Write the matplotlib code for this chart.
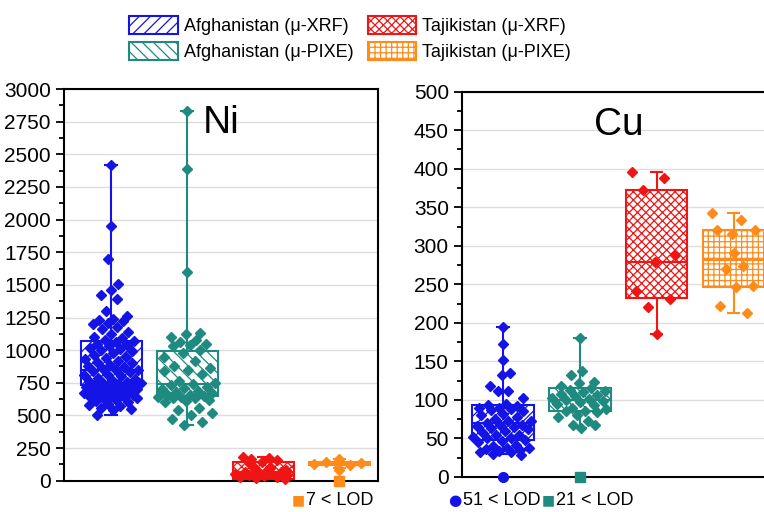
import numpy as np
import matplotlib.pyplot as plt
from matplotlib.patches import Patch

plt.rcParams['font.family'] = ['Liberation Sans', 'DejaVu Sans']
plt.rcParams['hatch.linewidth'] = 0.9

groups = ['Afghanistan (μ-XRF)', 'Afghanistan (μ-PIXE)', 'Tajikistan (μ-XRF)', 'Tajikistan (μ-PIXE)']
colors = ['#1414e6', '#1f8a80', '#f01414', '#ff8c1a']
hatches = ['///', '\\\\\\', 'xxxx', '+++']

# Ni points (ppm)
ni_afg_xrf = [2420, 1950, 1700, 1510, 1460, 1420, 1390, 1300, 1260, 1240, 1230, 1220, 1210,
              1200, 1180, 1160, 1140, 1120, 1100, 1090, 1080, 1070, 1060, 1050, 1040, 1030,
              1020, 1010, 1000, 990, 980, 960, 950, 940, 930, 920, 910, 900, 890, 880, 870,
              860, 850, 845, 840, 830, 820, 810, 800, 790, 780, 770, 760, 755, 750, 745, 740,
              735, 730, 725, 720, 715, 710, 700, 695, 690, 685, 680, 670, 665, 660, 655, 650,
              645, 640, 635, 630, 620, 610, 600, 590, 580, 570, 560, 550, 540, 500]
ni_afg_pixe = [2830, 2390, 1600, 1130, 1120, 1100, 1080, 1060, 1050, 1040, 1030, 1000, 980,
               950, 920, 880, 860, 850, 840, 820, 760, 750, 740, 730, 720, 710, 700, 690,
               680, 670, 660, 655, 650, 645, 640, 635, 630, 620, 610, 600, 560, 540, 520,
               500, 470, 450, 430]
ni_taj_xrf = [185, 175, 170, 160, 140, 130, 100, 90, 80, 75, 70, 65, 60, 55, 50, 45, 40, 35,
              30, 25, 20, 15]
ni_taj_pixe = [170, 150, 140, 135, 130, 125, 120, 85]

# Ni box stats: whisker low, q1, median, q3, whisker high
ni_stats = [[500, 730, 850, 1070, 2420],
            [430, 650, 740, 995, 2830],
            [15, 15, 65, 140, 185],
            [100, 120, 130, 140, 170]]

# Cu points (ppm)
cu_afg_xrf = [194, 173, 152, 135, 132, 118, 112, 111, 102, 95, 93, 92, 90, 89, 88, 87, 85,
              82, 80, 78, 75, 73, 72, 70, 68, 67, 66, 65, 63, 62, 60, 58, 55, 54, 52, 50, 50,
              48, 47, 45, 42, 40, 38, 37, 36, 35, 34, 33, 32, 30, 29]
cu_afg_pixe = [180, 137, 132, 123, 122, 118, 115, 113, 111, 110, 108, 106, 105, 103, 101,
               100, 99, 97, 95, 93, 90, 88, 86, 85, 84, 80, 78, 73, 68, 67, 63]
cu_taj_xrf = [396, 388, 373, 288, 279, 242, 231, 220, 186]
cu_taj_pixe = [343, 333, 321, 320, 315, 291, 274, 270, 248, 246, 222, 213]

cu_stats = [[30, 48, 70, 94, 194],
            [63, 85, 100, 115, 180],
            [186, 232, 279, 373, 396],
            [213, 246, 282, 321, 343]]

fig = plt.figure(figsize=(7.64, 5.12), dpi=100)
ax1 = fig.add_axes([0.0838, 0.0611, 0.411, 0.765])
ax2 = fig.add_axes([0.6047, 0.0684, 0.411, 0.7525])


def spread(p):
    # horizontal spread of the points, wider where they are dense
    p = np.asarray(p, float)
    h = (p.max() - p.min()) / 10
    cnt = np.array([np.sum(np.abs(p - v) <= h) for v in p])
    w = 0.4 * np.sqrt(cnt / cnt.max())
    w[cnt <= 1] = 0
    u = (np.arange(len(p)) * 0.618034) % 1 * 2 - 1
    return u * w


def draw(ax, stats, pts, title, ymax, major, minor):
    for i, (s, p) in enumerate(zip(stats, pts)):
        st = dict(whislo=s[0], q1=s[1], med=s[2], q3=s[3], whishi=s[4])
        c = colors[i]
        ax.bxp([st], positions=[i + 1], widths=0.8, showfliers=False, patch_artist=True,
               capwidths=[0.15],
               boxprops=dict(facecolor='white', edgecolor=c, linewidth=1.5, hatch=hatches[i]),
               medianprops=dict(color=c, linewidth=1.5),
               whiskerprops=dict(color=c, linewidth=1.5),
               capprops=dict(color=c, linewidth=1.5))
        ax.plot(i + 1 + spread(p), p, 'D', color=c, ms=5.5, zorder=4, clip_on=False)
    ax.set_ylim(0, ymax)
    ax.set_yticks(np.arange(0, ymax + 1, major))
    ax.set_yticks(np.arange(0, ymax + 1, minor), minor=True)
    ax.set_xticks([])
    ax.yaxis.grid(True, color='#dddddd', linewidth=1)
    ax.set_axisbelow(True)
    ax.tick_params(axis='y', which='major', direction='out', length=6, width=1.3, labelsize=15)
    ax.tick_params(axis='y', which='minor', direction='out', length=3.5, width=1.3)
    for sp in ax.spines.values():
        sp.set_linewidth(1.5)
    ax.text(0.5, 0.96, title, transform=ax.transAxes, ha='center', va='top', fontsize=28)


draw(ax1, ni_stats, [ni_afg_xrf, ni_afg_pixe, ni_taj_xrf, ni_taj_pixe], 'Ni', 3000, 250, 125)
ax1.set_xlim(0.38, 4.51)
draw(ax2, cu_stats, [cu_afg_xrf, cu_afg_pixe, cu_taj_xrf, cu_taj_pixe], 'Cu', 500, 50, 25)
ax2.set_xlim(0.47, 4.55)

# values below limit of detection
ax1.plot(4, 0, 's', color=colors[3], ms=7, zorder=5, clip_on=False)
ax2.plot(1, 0, 'o', color=colors[0], ms=7, zorder=5, clip_on=False)
ax2.plot(2, 0, 's', color=colors[1], ms=7, zorder=5, clip_on=False)

y_lod = 0.022
fig.text(0.391, y_lod, '■', color=colors[3], fontsize=10, ha='center', va='center', family='DejaVu Sans')
fig.text(0.401, y_lod, '7 < LOD', fontsize=13, va='center')
fig.text(0.5955, y_lod, '●', color=colors[0], fontsize=11, ha='center', va='center', family='DejaVu Sans')
fig.text(0.6055, y_lod, '51 < LOD', fontsize=13, va='center')
fig.text(0.7175, y_lod, '■', color=colors[1], fontsize=10, ha='center', va='center', family='DejaVu Sans')
fig.text(0.7275, y_lod, '21 < LOD', fontsize=13, va='center')

handles = [Patch(facecolor='white', edgecolor=colors[i], hatch=hatches[i], linewidth=1.5)
           for i in [0, 1, 2, 3]]
fig.legend(handles, groups, loc='upper center', bbox_to_anchor=(0.458, 1.0), ncol=2,
           frameon=False, fontsize=13, handlelength=2.7, handleheight=1.15,
           columnspacing=0.8, handletextpad=0.3, labelspacing=0.35)

fig.savefig('out.png', dpi=100)
